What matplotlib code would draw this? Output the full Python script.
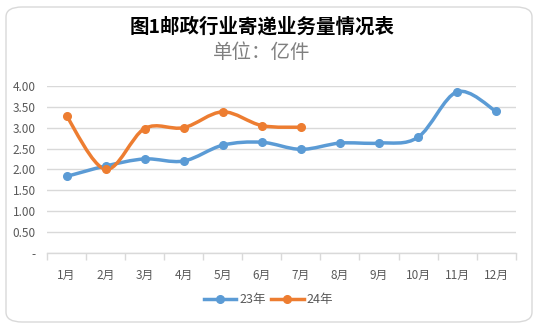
import matplotlib
matplotlib.use("Agg")
import matplotlib.pyplot as plt
import numpy as np
from matplotlib.path import Path
from matplotlib.patches import PathPatch, FancyBboxPatch
from matplotlib.lines import Line2D

plt.rcParams['font.family'] = ['Noto Sans CJK SC', 'DejaVu Sans']

months = ['1月', '2月', '3月', '4月', '5月', '6月', '7月', '8月', '9月', '10月', '11月', '12月']
y23 = [1.83, 2.08, 2.25, 2.20, 2.58, 2.65, 2.48, 2.63, 2.63, 2.77, 3.86, 3.39]
y24 = [3.28, 2.00, 2.98, 3.00, 3.38, 3.05, 3.01]
yticks = [0, 0.5, 1.0, 1.5, 2.0, 2.5, 3.0, 3.5, 4.0]
yticklabels = ['-', '0.50', '1.00', '1.50', '2.00', '2.50', '3.00', '3.50', '4.00']

c23 = '#5B9BD5'
c24 = '#ED7D31'
txt = '#595959'

fig = plt.figure(figsize=(5.39, 3.28), dpi=100)
fig.patch.set_facecolor('white')
border = FancyBboxPatch((6/539, 6/328), 526/539, 315/328,
                        boxstyle='round,pad=0,rounding_size=0.03',
                        transform=fig.transFigure, facecolor='none',
                        edgecolor='#D9D9D9', linewidth=1.0, zorder=-1)
fig.patches.append(border)

ax = fig.add_axes([47/539, (328-252.7)/328, (515.7-47)/539, (252.7-86)/328])
ax.set_facecolor('none')


def smooth_path(xs, ys):
    pts = np.column_stack([xs, ys]).astype(float)
    n = len(pts)
    verts = [pts[0]]
    codes = [Path.MOVETO]
    for i in range(n - 1):
        p0 = pts[i - 1] if i > 0 else pts[i]
        p1 = pts[i]
        p2 = pts[i + 1]
        p3 = pts[i + 2] if i + 2 < n else pts[i + 1]
        c1 = p1 + (p2 - p0) / 6.0
        c2 = p2 - (p3 - p1) / 6.0
        verts += [c1, c2, p2]
        codes += [Path.CURVE4] * 3
    return Path(verts, codes)


for ys, col in [(y23, c23), (y24, c24)]:
    xs = np.arange(len(ys))
    patch = PathPatch(smooth_path(xs, ys), facecolor='none', edgecolor=col,
                      linewidth=2.5, capstyle='round', joinstyle='round', zorder=3)
    ax.add_patch(patch)
    ax.plot(xs, ys, linestyle='none', marker='o', markersize=5.5, color=col, zorder=4)

ax.set_xlim(-0.5, 11.5)
ax.set_ylim(0, 4.0)
ax.set_yticks(yticks)
ax.set_yticklabels(yticklabels)
ax.set_xticks(np.arange(12))
ax.set_xticklabels(months)
ax.set_xticks(np.arange(-0.5, 12, 1), minor=True)
ax.tick_params(axis='x', which='major', length=0, pad=12, labelsize=8.5, labelcolor=txt)
ax.tick_params(axis='x', which='minor', length=5, color='#D9D9D9', width=1)
ax.tick_params(axis='y', length=0, pad=8, labelsize=8.5, labelcolor=txt)
ax.grid(axis='y', color='#D9D9D9', linewidth=1)
ax.set_axisbelow(True)
for s in ['top', 'right', 'left']:
    ax.spines[s].set_visible(False)
ax.spines['bottom'].set_color('#D9D9D9')
ax.spines['bottom'].set_linewidth(1)
for lab in ax.get_yticklabels():
    lab.set_horizontalalignment('right')

fig.text(262/539, 1 - 27/328, '图1邮政行业寄递业务量情况表', ha='center', va='center',
         fontsize=14, fontweight='bold', color='black')
fig.text(262/539, 1 - 52/328, '单位：亿件', ha='center', va='center',
         fontsize=14, color='#7F7F7F')

handles = [Line2D([], [], color=c23, lw=2.5, marker='o', markersize=5.5),
           Line2D([], [], color=c24, lw=2.5, marker='o', markersize=5.5)]
fig.legend(handles, ['23年', '24年'], loc='center', bbox_to_anchor=(268.5/539, 1 - 300/328),
           ncol=2, frameon=False, fontsize=9, labelcolor=txt, handlelength=2.6,
           handletextpad=0.25, columnspacing=0.4)

fig.savefig('out.png', dpi=100, facecolor='white')
